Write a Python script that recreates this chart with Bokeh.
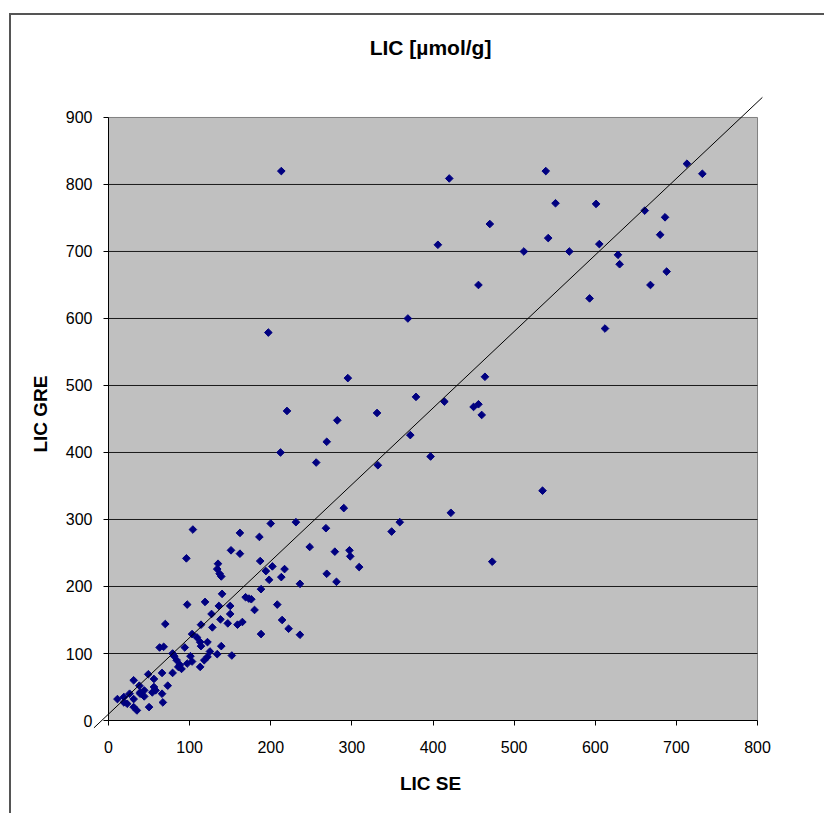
import math
from bokeh.plotting import figure
from bokeh.models import Range1d, FixedTicker, InlineStyleSheet, LinearAxis, Title
from bokeh.embed import file_html
from bokeh.resources import INLINE

# LIC measured by SE (x) and by GRE (y), µmol/g
lic_se = [213, 420, 539, 713, 732, 551, 601, 661, 686, 470, 680, 406, 542, 512, 568, 605,
          628, 630, 688, 456, 668, 593, 612, 369, 197, 464, 295, 379, 414, 450, 456, 460,
          220, 331, 282, 269, 372, 212, 256, 397, 332, 535, 422, 473, 290, 359, 349, 297,
          298, 309,
          104, 162, 186, 200, 231, 268, 279, 248, 96, 151, 162, 187,
          135, 134, 137, 139, 202, 217, 194, 213, 198, 236, 269, 281, 140, 188, 97, 119,
          136, 150, 127, 114, 128, 138, 150, 147, 159, 165, 169, 173, 176, 180, 208, 214,
          222, 236, 188,
          70, 63, 68, 103, 109, 94, 114, 122, 113, 125, 122, 118, 113, 103, 101, 139,
          134, 152, 79, 81, 84, 88, 86, 97, 90, 79, 66, 31, 38, 49, 56, 56,
          44, 39, 31, 26, 19, 11, 19, 23, 31, 35, 50, 66, 67, 73, 58, 54,
          44, 39]
lic_gre = [820, 809, 820, 831, 816, 772, 771, 761, 751, 741, 725, 710, 720, 700, 700, 711,
           695, 681, 670, 650, 650, 630, 585, 600, 579, 513, 511, 483, 476, 468, 472, 456,
           462, 459, 448, 416, 426, 400, 385, 394, 381, 343, 310, 237, 317, 296, 282, 254,
           245, 229,
           285, 280, 274, 294, 296, 287, 252, 259, 242, 254, 249, 238,
           234, 226, 219, 215, 230, 226, 223, 214, 210, 204, 219, 207, 189, 196, 173, 177,
           171, 171, 159, 143, 139, 151, 159, 145, 143, 147, 184, 182, 181, 165, 173, 150,
           137, 128, 129,
           144, 109, 110, 129, 124, 109, 111, 117, 117, 103, 95, 90, 80, 88, 96, 111,
           99, 97, 100, 96, 90, 83, 80, 85, 77, 71, 71, 60, 52, 69, 62, 50,
           45, 40, 32, 40, 35, 32, 27, 25, 20, 15, 20, 40, 27, 52, 45, 42,
           36, 42]

# fitted line
fit_x = [-18, 806]
fit_y = [-11, 930]

x_ticks = [0, 100, 200, 300, 400, 500, 600, 700, 800]
y_ticks = [0, 100, 200, 300, 400, 500, 600, 700, 800, 900]
grid_ticks = [100, 200, 300, 400, 500, 600, 700, 800]

FONT = "Liberation Sans"

css = InlineStyleSheet(css=":host { border-left: 2px solid #555555; border-top: 2px solid #555555; "
                           "margin-left: 9px; margin-top: 13px; }")

p = figure(width=815, height=800, output_backend="svg", toolbar_location=None,
           x_range=Range1d(-18.5, 812.3), y_range=Range1d(-17.9, 932.8),
           min_border_left=82, min_border_right=59,
           min_border_top=80, min_border_bottom=83)
p.stylesheets = [css]

# white spacer next to the frame, then the real title further out
p.add_layout(Title(text="x", text_font_size="1px", text_color="white", standoff=32), "above")
p.add_layout(Title(text="LIC [µmol/g]", align="center", vertical_align="bottom",
                   standoff=4, text_font=FONT, text_font_size="21px",
                   text_font_style="bold", text_color="black"), "above")

p.background_fill_color = "white"
p.border_fill_color = "white"
p.outline_line_color = None

p.xgrid.visible = False
p.ygrid.visible = False

# plot area
p.quad(left=[x_ticks[0]], right=[x_ticks[-1]], bottom=[y_ticks[0]], top=[y_ticks[-1]],
       fill_color="#C0C0C0", line_color="#808080", line_width=1)
# horizontal gridlines
p.segment(x0=[x_ticks[0]] * len(grid_ticks), x1=[x_ticks[-1]] * len(grid_ticks),
          y0=grid_ticks, y1=grid_ticks, line_color="#1a1a1a", line_width=1)

# label axes (at the frame edges): tick labels and titles only
for ax in (p.xaxis[0], p.yaxis[0]):
    ax.axis_line_color = None
    ax.major_tick_line_color = None
    ax.minor_tick_line_color = None
    ax.major_tick_out = 0
    ax.major_tick_in = 0
    ax.major_label_text_font = FONT
    ax.major_label_text_font_size = "16px"
    ax.major_label_text_color = "black"
    ax.axis_label_text_font = FONT
    ax.axis_label_text_font_size = "19px"
    ax.axis_label_text_font_style = "bold"
    ax.axis_label_text_color = "black"

p.xaxis.ticker = FixedTicker(ticks=x_ticks)
p.yaxis.ticker = FixedTicker(ticks=y_ticks)
p.xaxis.axis_label = "LIC SE"
p.yaxis.axis_label = "LIC GRE"
p.xaxis.major_label_standoff = 8
p.xaxis.axis_label_standoff = 17
p.yaxis.major_label_standoff = 1
p.yaxis.axis_label_standoff = 12

# line + tick axes at the data origin
def line_axis(ticks, bounds):
    a = LinearAxis(fixed_location=0, ticker=FixedTicker(ticks=ticks), bounds=bounds)
    a.axis_line_color = "black"
    a.major_tick_line_color = "black"
    a.major_tick_out = 5
    a.major_tick_in = 0
    a.minor_tick_line_color = None
    a.major_label_text_font_size = "1px"
    a.major_label_text_alpha = 0
    a.major_label_standoff = 0
    return a

p.add_layout(line_axis(y_ticks, (y_ticks[0], y_ticks[-1])), "left")
p.add_layout(line_axis(x_ticks, (x_ticks[0], x_ticks[-1])), "below")

p.scatter(lic_se, lic_gre, marker="square", angle=math.pi / 4, size=5.4,
          fill_color="#000080", line_color="#000080", line_width=1)

p.line(fit_x, fit_y, line_color="black", line_width=1)

open("out.html", "w").write(file_html(p, INLINE))
